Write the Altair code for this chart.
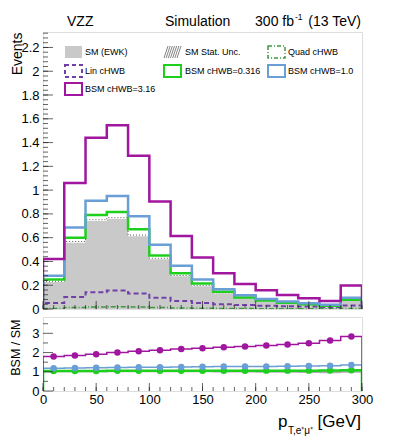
import altair as alt
import pandas as pd
import numpy as np

# ---------------- data ----------------
bin_lo = [0, 20, 40, 60, 80, 100, 120, 140, 160, 180, 200, 220, 240, 260, 280]
bin_mid = [10, 30, 50, 70, 90, 110, 130, 150, 170, 190, 210, 230, 250, 270, 290]
x_max = 300

sm_ewk = [0.227, 0.558, 0.740, 0.757, 0.612, 0.419, 0.275, 0.192, 0.131, 0.089, 0.066, 0.048, 0.036, 0.026, 0.069]
sm_unc = [0.006, 0.010, 0.011, 0.011, 0.010, 0.008, 0.007, 0.006, 0.005, 0.004, 0.004, 0.003, 0.003, 0.003, 0.004]
bsm_316 = [0.42, 1.06, 1.44, 1.545, 1.29, 0.905, 0.614, 0.433, 0.30, 0.21, 0.158, 0.117, 0.09, 0.067, 0.197]
bsm_10 = [0.28, 0.686, 0.91, 0.95, 0.78, 0.54, 0.364, 0.248, 0.166, 0.115, 0.085, 0.063, 0.048, 0.035, 0.095]
bsm_0316 = [0.248, 0.60, 0.79, 0.815, 0.67, 0.45, 0.30, 0.215, 0.145, 0.097, 0.072, 0.053, 0.040, 0.028, 0.077]
lin_chwb = [0.05, 0.10, 0.14, 0.155, 0.13, 0.095, 0.068, 0.05, 0.04, 0.033, 0.028, 0.024, 0.02, 0.017, 0.03]
quad_chwb = [0.005, 0.012, 0.017, 0.019, 0.017, 0.013, 0.009, 0.007, 0.005, 0.004, 0.003, 0.002, 0.002, 0.0015, 0.004]

ratio_316 = [1.80, 1.85, 1.91, 2.00, 2.07, 2.12, 2.18, 2.23, 2.28, 2.32, 2.37, 2.42, 2.49, 2.63, 2.84]
ratio_10 = [1.19, 1.20, 1.21, 1.22, 1.23, 1.24, 1.25, 1.26, 1.27, 1.28, 1.28, 1.29, 1.30, 1.32, 1.35]
ratio_0316 = [1.04, 1.04, 1.04, 1.05, 1.05, 1.05, 1.05, 1.05, 1.05, 1.05, 1.06, 1.06, 1.06, 1.07, 1.08]
ratio_unc = [0.03, 0.02, 0.02, 0.02, 0.02, 0.02, 0.03, 0.03, 0.04, 0.04, 0.05, 0.05, 0.06, 0.07, 0.05]

y_ticks_top = [0, 0.2, 0.4, 0.6, 0.8, 1, 1.2, 1.4, 1.6, 1.8, 2, 2.2]
y_ticks_bot = [0, 1, 2, 3]
x_ticks = [0, 50, 100, 150, 200, 250, 300]

# ---------------- colours / fonts ----------------
C_PUR = "#a0169f"
C_BLUE = "#6a9ed6"
C_GREEN = "#1ecf1e"
C_LIN = "#7040a8"
C_QUAD = "#3c9a3c"
C_SM = "#c9c9c9"
FONT = "Liberation Sans"

W = 319
H_TOP = 277
H_BOT = 74


def step_df(vals):
    xs = [0] + bin_lo + [x_max, x_max]
    ys = [0] + list(vals) + [vals[-1], 0]
    return pd.DataFrame({"x": xs, "y": ys, "o": list(range(len(xs)))})


def area_df(vals):
    return pd.DataFrame({"x": bin_lo + [x_max], "y": list(vals) + [vals[-1]]})


one = pd.DataFrame({"a": [0]})

xsc = alt.Scale(domain=[0, 300], nice=False, zero=False)
ysc_top = alt.Scale(domain=[0, 2.33], nice=False)
ysc_bot = alt.Scale(domain=[0, 3.85], nice=False)

yaxis_top = alt.Axis(values=y_ticks_top, format="~g", tickSize=0, labelFont=FONT, labelFontSize=13,
                     labelPadding=4, labelColor="black", domain=False, grid=False,
                     title="Events", titleFont=FONT, titleFontSize=14, titleFontWeight="normal",
                     titleAngle=-90, titleAlign="right", titleBaseline="bottom",
                     titleX=-19, titleY=0, titleColor="black")
yaxis_bot = alt.Axis(values=y_ticks_bot, format="d", tickSize=0, labelFont=FONT, labelFontSize=13,
                     labelPadding=4, labelColor="black", domain=False, grid=False,
                     title="BSM / SM", titleFont=FONT, titleFontSize=12.5, titleFontWeight="normal",
                     titleAngle=-90, titleAlign="right", titleBaseline="bottom",
                     titleX=-21, titleY=2, titleColor="black")
xaxis_bot = alt.Axis(values=x_ticks, format="d", tickSize=0, labelFont=FONT, labelFontSize=13,
                     labelPadding=2, labelColor="black", domain=False, grid=False, title=None,
                     labelFlush=False)

X_top = alt.X("x:Q", scale=xsc, axis=None)
Y_top = alt.Y("y:Q", scale=ysc_top, axis=yaxis_top)


def hist_line(vals, color, width, dash=None):
    kw = dict(interpolate="step-after", color=color, strokeWidth=width, clip=True)
    if dash:
        kw["strokeDash"] = dash
    return alt.Chart(step_df(vals)).mark_line(**kw).encode(
        x=X_top, y=Y_top, order="o:Q")


sm_area = alt.Chart(area_df(sm_ewk)).mark_area(interpolate="step-after", color=C_SM, opacity=1).encode(
    x=X_top, y=Y_top)
sm_hi = [s + u for s, u in zip(sm_ewk, sm_unc)]
sm_unc_line = alt.Chart(area_df(sm_hi)).mark_line(
    interpolate="step-after", color="#555", strokeWidth=1, strokeDash=[1, 2]).encode(x=X_top, y=Y_top)

# inward ticks, top panel
ytick_major = alt.Chart(pd.DataFrame({"y": y_ticks_top})).mark_tick(
    orient="horizontal", size=10, thickness=1, color="#222").encode(y=Y_top, x=alt.value(5))
ytick_minor = alt.Chart(pd.DataFrame({"y": list(np.round(np.arange(0, 2.33, 0.04), 2))})).mark_tick(
    orient="horizontal", size=5, thickness=1, color="#222").encode(y=Y_top, x=alt.value(2.5))
xtick_major_t = alt.Chart(pd.DataFrame({"x": x_ticks})).mark_tick(
    orient="vertical", size=8, thickness=1, color="#222").encode(x=X_top, y=alt.value(H_TOP - 4))
xtick_minor_t = alt.Chart(pd.DataFrame({"x": list(range(0, 301, 10))})).mark_tick(
    orient="vertical", size=4, thickness=1, color="#222").encode(x=X_top, y=alt.value(H_TOP - 2))


def txt(s, x, y, size, align="left", color="black", baseline="alphabetic"):
    return alt.Chart(one).mark_text(text=s, font=FONT, fontSize=size, align=align, baseline=baseline,
                                    color=color, clip=False).encode(x=alt.value(x), y=alt.value(y))


def box(x0, y0, x1, y1, fill=None, stroke=None, width=2, dash=None):
    kw = dict(clip=False)
    kw["fill"] = fill if fill else "transparent"
    if stroke:
        kw["stroke"] = stroke
        kw["strokeWidth"] = width
    if dash:
        kw["strokeDash"] = dash
    return alt.Chart(one).mark_rect(**kw).encode(
        x=alt.value(x0), x2=alt.value(x1), y=alt.value(y0), y2=alt.value(y1))


def hatch(x0, y0, x1, y1):
    layers = []
    n = 7
    for i in range(n):
        xa = x0 + i * (x1 - x0) / (n - 1)
        layers.append(alt.Chart(one).mark_rule(color="#666", strokeWidth=0.8, clip=False).encode(
            x=alt.value(xa - 4), x2=alt.value(xa), y=alt.value(y1), y2=alt.value(y0)))
    return layers


# legend (plot coords)
c1, c2, c3 = 22, 121, 225
r1, r2, r3 = 20, 39, 57
bw, bh = 17, 12
legend = [
    box(c1, r1 - bh / 2, c1 + bw, r1 + bh / 2, fill=C_SM),
    txt("SM (EWK)", c1 + 20, r1 + 3, 9),
    *hatch(c2 + 4, r1 - bh / 2, c2 + bw, r1 + bh / 2),
    txt("SM Stat. Unc.", c2 + 21, r1 + 3, 9),
    box(c3, r1 - bh / 2, c3 + bw, r1 + bh / 2, stroke=C_QUAD, width=1.5, dash=[4, 2, 1, 2]),
    txt("Quad cHWB", c3 + 20, r1 + 3, 9),
    box(c1, r2 - bh / 2, c1 + bw, r2 + bh / 2, stroke=C_LIN, width=2, dash=[4, 3]),
    txt("Lin cHWB", c1 + 20, r2 + 3, 9),
    box(c2, r2 - bh / 2, c2 + bw, r2 + bh / 2, stroke=C_GREEN, width=2),
    txt("BSM cHWB=0.316", c2 + 21, r2 + 3, 9),
    box(c3, r2 - bh / 2, c3 + bw, r2 + bh / 2, stroke=C_BLUE, width=2),
    txt("BSM cHWB=1.0", c3 + 20, r2 + 3, 9),
    box(c1, r3 - bh / 2, c1 + bw, r3 + bh / 2, stroke=C_PUR, width=2),
    txt("BSM cHWB=3.16", c1 + 20, r3 + 3, 9),
]

header = [
    txt("VZZ", 24, -6.5, 14),
    txt("Simulation", 122, -6.5, 14),
    txt("300 fb", 251, -6.5, 14, align="right"),
    txt("-1", 252, -12.5, 8.5),
    txt("(13 TeV)", 318, -6.5, 14, align="right"),
]

top = alt.layer(
    sm_area,
    sm_unc_line,
    hist_line(quad_chwb, C_QUAD, 1.5, [5, 2, 1, 2]),
    hist_line(lin_chwb, C_LIN, 2, [5, 3]),
    hist_line(bsm_0316, C_GREEN, 2.5),
    hist_line(bsm_10, C_BLUE, 2.5),
    hist_line(bsm_316, C_PUR, 2.5),
    ytick_major, ytick_minor, xtick_major_t, xtick_minor_t,
    *legend,
    *header,
).properties(width=W, height=H_TOP)

# ---------------- ratio panel ----------------
X_bot = alt.X("x:Q", scale=xsc, axis=xaxis_bot)
Y_bot = alt.Y("y:Q", scale=ysc_bot, axis=yaxis_bot)

band_df = pd.DataFrame({"x": bin_lo + [x_max],
                        "lo": [1 - u for u in ratio_unc] + [1 - ratio_unc[-1]],
                        "hi": [1 + u for u in ratio_unc] + [1 + ratio_unc[-1]]})
band = alt.Chart(band_df).mark_area(interpolate="step-after", color="#9a9a9a", opacity=0.8).encode(
    x=X_bot, y=alt.Y("lo:Q", scale=ysc_bot, axis=yaxis_bot), y2="hi:Q")


def ratio_line(vals, color, width):
    return alt.Chart(step_df(vals)).mark_line(interpolate="step-after", color=color, strokeWidth=width,
                                              clip=True).encode(x=X_bot, y=Y_bot, order="o:Q")


def ratio_pts(vals, color):
    return alt.Chart(pd.DataFrame({"x": bin_mid, "y": vals})).mark_circle(
        size=42, color=color, opacity=1).encode(x=X_bot, y=Y_bot)


ytick_major_b = alt.Chart(pd.DataFrame({"y": y_ticks_bot})).mark_tick(
    orient="horizontal", size=10, thickness=1, color="#222").encode(y=Y_bot, x=alt.value(5))
ytick_minor_b = alt.Chart(pd.DataFrame({"y": [0.5, 1.5, 2.5, 3.5]})).mark_tick(
    orient="horizontal", size=5, thickness=1, color="#222").encode(y=Y_bot, x=alt.value(2.5))
xtick_major_b = alt.Chart(pd.DataFrame({"x": x_ticks})).mark_tick(
    orient="vertical", size=8, thickness=1, color="#222").encode(x=X_bot, y=alt.value(H_BOT - 4))
xtick_minor_b = alt.Chart(pd.DataFrame({"x": list(range(0, 301, 10))})).mark_tick(
    orient="vertical", size=4, thickness=1, color="#222").encode(x=X_bot, y=alt.value(H_BOT - 2))

xtitle = [
    txt("p", 235, 110, 17),
    txt("T,e\u207a\u03bc\u207a", 245, 117, 10),
    txt("[GeV]", 318, 110, 17, align="right"),
]

bottom = alt.layer(
    band,
    ratio_line(ratio_0316, C_GREEN, 2.5),
    ratio_line(ratio_10, C_BLUE, 1.5),
    ratio_line(ratio_316, C_PUR, 1.5),
    ratio_pts(ratio_0316, C_GREEN),
    ratio_pts(ratio_10, C_BLUE),
    ratio_pts(ratio_316, C_PUR),
    ytick_major_b, ytick_minor_b, xtick_major_b, xtick_minor_b,
    *xtitle,
).properties(width=W, height=H_BOT)

chart = alt.vconcat(top, bottom, spacing=-3).properties(
    padding={"left": 0, "top": 4, "right": 0, "bottom": 0}
).configure_view(stroke="#555", strokeWidth=1.5).configure(background="white")

chart.save("out.html", embed_options={"renderer": "svg", "actions": False})
